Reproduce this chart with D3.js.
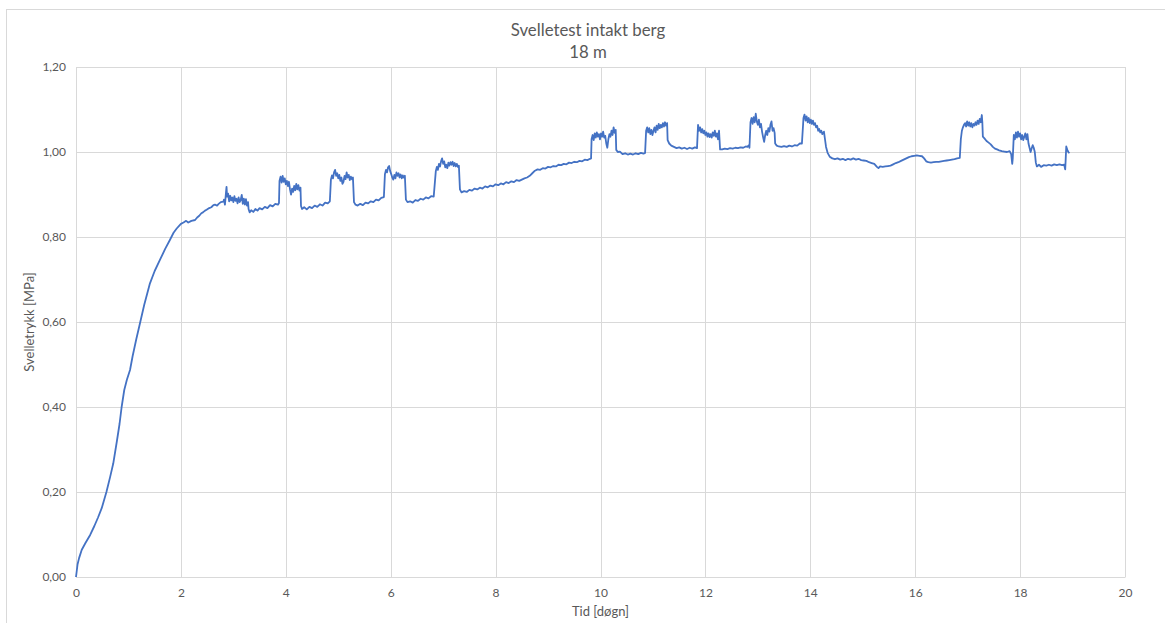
<!DOCTYPE html>
<html>
<head>
<meta charset="utf-8">
<script src="https://cdn.jsdelivr.net/npm/d3@7"></script>
<style>
  html, body { margin: 0; padding: 0; background: #fff; }
  svg { display: block; }
  text { font-family: Lato, "Noto Sans", sans-serif; fill: #595959; }
</style>
</head>
<body>
<script>
// ---- Data ----
const titleLines = ["Svelletest intakt berg", "18 m"];
const xLabel = "Tid [døgn]";
const yLabel = "Svelletrykk [MPa]";
const xTicks = [0, 2, 4, 6, 8, 10, 12, 14, 16, 18, 20];
const yTicks = [0, 0.2, 0.4, 0.6, 0.8, 1.0, 1.2];

// [tid (døgn), svelletrykk (MPa)]
const oppstart = [
  [0,0],[0.03,0.03],[0.06,0.045],[0.11,0.064],[0.18,0.08],[0.27,0.099],[0.35,0.12],[0.42,0.14],
  [0.49,0.162],[0.58,0.20],[0.65,0.235],[0.71,0.267],[0.78,0.32],[0.83,0.36],[0.87,0.40],[0.92,0.44],
  [0.97,0.464],[1.03,0.487],[1.08,0.52],[1.15,0.56],[1.22,0.597],[1.30,0.64],[1.41,0.691],[1.50,0.72],
  [1.60,0.746],[1.70,0.772],[1.79,0.793],[1.86,0.81],[1.92,0.82],[2.00,0.831],[2.05,0.834],[2.10,0.838],
  [2.14,0.834],[2.20,0.838],[2.27,0.84],[2.31,0.846],[2.35,0.85],[2.39,0.856],[2.42,0.858],[2.46,0.862],
  [2.49,0.864],[2.54,0.868],[2.58,0.87],[2.62,0.875],[2.65,0.876],[2.69,0.874],[2.72,0.878],[2.76,0.882],[2.81,0.883]
];
const syklus1 = [
  [2.82,0.888],[2.84,0.876],[2.86,0.905],[2.87,0.918],[2.88,0.895],[2.90,0.902],[2.92,0.884],[2.94,0.897],
  [2.96,0.886],[2.98,0.893],[3.00,0.882],[3.02,0.896],[3.04,0.885],[3.06,0.89],[3.08,0.879],[3.10,0.893],
  [3.12,0.882],[3.14,0.887],[3.16,0.899],[3.18,0.878],[3.20,0.89],[3.22,0.876],[3.24,0.889],[3.26,0.874],
  [3.28,0.882],[3.29,0.866],[3.31,0.858],[3.34,0.863],[3.38,0.859],[3.42,0.866],[3.46,0.862],[3.50,0.868],
  [3.55,0.865],[3.60,0.871],[3.65,0.868],[3.70,0.875],[3.75,0.872],[3.80,0.878],[3.85,0.876],[3.87,0.88]
];
const syklus2 = [
  [3.88,0.932],[3.90,0.942],[3.92,0.928],[3.94,0.944],[3.96,0.93],[3.98,0.938],[4.00,0.924],[4.02,0.932],
  [4.04,0.92],[4.06,0.93],[4.08,0.912],[4.10,0.9],[4.12,0.914],[4.14,0.906],[4.16,0.92],[4.18,0.91],
  [4.20,0.925],[4.22,0.912],[4.24,0.922],[4.26,0.909],[4.28,0.916],[4.29,0.873],[4.31,0.866],[4.35,0.87],
  [4.40,0.865],[4.45,0.871],[4.50,0.868],[4.55,0.874],[4.60,0.871],[4.65,0.877],[4.70,0.874],[4.75,0.881],
  [4.80,0.879],[4.84,0.884]
];
const syklus3 = [
  [4.86,0.935],[4.88,0.945],[4.90,0.938],[4.92,0.952],[4.94,0.958],[4.96,0.944],[4.98,0.95],[5.00,0.938],
  [5.02,0.946],[5.04,0.932],[5.06,0.94],[5.08,0.925],[5.10,0.93],[5.12,0.944],[5.14,0.936],[5.16,0.952],
  [5.18,0.94],[5.20,0.946],[5.22,0.934],[5.24,0.942],[5.26,0.936],[5.28,0.94],[5.30,0.882],[5.33,0.876],
  [5.37,0.874],[5.42,0.878],[5.47,0.875],[5.52,0.881],[5.57,0.879],[5.62,0.884],[5.67,0.882],[5.72,0.888],
  [5.77,0.886],[5.82,0.892],[5.87,0.894]
];
const syklus4 = [
  [5.89,0.948],[5.91,0.958],[5.93,0.952],[5.95,0.964],[5.97,0.967],[5.99,0.955],[6.01,0.948],[6.03,0.94],
  [6.05,0.935],[6.07,0.946],[6.09,0.938],[6.11,0.952],[6.13,0.944],[6.15,0.95],[6.17,0.94],[6.19,0.947],
  [6.21,0.938],[6.23,0.945],[6.25,0.94],[6.27,0.944],[6.29,0.888],[6.32,0.882],[6.37,0.884],[6.42,0.881],
  [6.47,0.887],[6.52,0.885],[6.57,0.89],[6.62,0.888],[6.67,0.893],[6.72,0.891],[6.77,0.896],[6.82,0.895]
];
const syklus5 = [
  [6.86,0.955],[6.88,0.965],[6.90,0.958],[6.92,0.972],[6.94,0.966],[6.96,0.978],[6.98,0.985],[7.00,0.972],
  [7.02,0.978],[7.04,0.964],[7.06,0.97],[7.08,0.962],[7.10,0.975],[7.12,0.968],[7.14,0.976],[7.16,0.97],
  [7.18,0.977],[7.20,0.967],[7.22,0.974],[7.24,0.966],[7.26,0.972],[7.28,0.965],[7.30,0.968],[7.32,0.912],
  [7.35,0.905],[7.40,0.908],[7.45,0.906],[7.50,0.911],[7.55,0.909],[7.60,0.914],[7.65,0.912],[7.70,0.916],
  [7.75,0.914],[7.80,0.919],[7.85,0.917],[7.90,0.921],[7.95,0.919],[8.00,0.924],[8.05,0.922],[8.10,0.926],
  [8.15,0.924],[8.20,0.929],[8.25,0.927],[8.30,0.931],[8.35,0.929],[8.40,0.934],[8.45,0.932],[8.50,0.935],
  [8.55,0.938],[8.60,0.94],[8.65,0.944],[8.70,0.95],[8.75,0.956],[8.80,0.959],[8.85,0.958],[8.90,0.962],
  [8.95,0.961],[9.00,0.965],[9.05,0.964],[9.10,0.967],[9.15,0.966],[9.20,0.97],[9.25,0.969],[9.30,0.972],
  [9.35,0.971],[9.40,0.975],[9.45,0.974],[9.50,0.977],[9.55,0.976],[9.60,0.979],[9.65,0.978],[9.70,0.982],
  [9.75,0.981],[9.80,0.984],[9.82,0.985]
];
const syklus6 = [
  [9.83,1.03],[9.85,1.04],[9.87,1.028],[9.89,1.044],[9.91,1.034],[9.93,1.046],[9.95,1.036],[9.97,1.042],
  [9.99,1.03],[10.01,1.044],[10.03,1.036],[10.05,1.048],[10.07,1.034],[10.09,1.038],[10.11,1.02],[10.13,1.01],
  [10.15,1.03],[10.17,1.042],[10.19,1.036],[10.21,1.05],[10.23,1.04],[10.25,1.058],[10.27,1.045],[10.29,1.052],
  [10.30,1.005],[10.33,1.0],[10.37,1.001],[10.42,0.995],[10.47,0.997],[10.52,0.994],[10.57,0.996],[10.62,0.994],
  [10.67,0.997],[10.72,0.995],[10.77,0.998],[10.82,0.996],[10.85,0.998]
];
const syklus7 = [
  [10.87,1.05],[10.89,1.058],[10.91,1.046],[10.93,1.056],[10.95,1.042],[10.97,1.052],[10.99,1.04],[11.01,1.05],
  [11.03,1.058],[11.05,1.046],[11.07,1.062],[11.09,1.052],[11.11,1.066],[11.13,1.056],[11.15,1.064],[11.17,1.058],
  [11.19,1.068],[11.21,1.06],[11.23,1.07],[11.25,1.062],[11.27,1.068],[11.28,1.028],[11.31,1.02],[11.35,1.015],
  [11.40,1.012],[11.45,1.009],[11.50,1.011],[11.55,1.008],[11.60,1.01],[11.65,1.007],[11.70,1.01],[11.75,1.008],
  [11.80,1.011],[11.84,1.009]
];
const syklus8 = [
  [11.86,1.064],[11.88,1.05],[11.90,1.058],[11.92,1.046],[11.94,1.054],[11.96,1.044],[11.98,1.05],[12.00,1.04],
  [12.02,1.046],[12.04,1.036],[12.06,1.044],[12.08,1.035],[12.10,1.042],[12.12,1.034],[12.14,1.046],[12.16,1.038],
  [12.18,1.05],[12.20,1.036],[12.22,1.044],[12.24,1.03],[12.26,1.05],[12.28,1.006],[12.32,1.006],[12.37,1.008],
  [12.42,1.007],[12.47,1.009],[12.52,1.008],[12.57,1.01],[12.62,1.009],[12.67,1.011],[12.72,1.01],[12.77,1.013],
  [12.80,1.012],[12.83,1.016],[12.84,1.01]
];
const syklus9 = [
  [12.86,1.07],[12.88,1.08],[12.90,1.066],[12.92,1.082],[12.94,1.07],[12.96,1.09],[12.98,1.072],[13.00,1.064],
  [13.02,1.076],[13.04,1.058],[13.06,1.066],[13.08,1.048],[13.10,1.035],[13.12,1.024],[13.14,1.04],[13.16,1.05],
  [13.18,1.04],[13.20,1.056],[13.22,1.048],[13.24,1.064],[13.26,1.072],[13.28,1.05],[13.30,1.056],[13.32,1.045],
  [13.33,1.02],[13.36,1.015],[13.40,1.013],[13.45,1.012],[13.50,1.014],[13.55,1.012],[13.60,1.015],[13.65,1.013],
  [13.70,1.016],[13.75,1.015],[13.80,1.02],[13.84,1.02]
];
const syklus10 = [
  [13.87,1.08],[13.89,1.088],[13.91,1.074],[13.93,1.084],[13.95,1.07],[13.97,1.08],[13.99,1.068],[14.01,1.076],
  [14.03,1.066],[14.05,1.074],[14.07,1.064],[14.09,1.068],[14.11,1.058],[14.13,1.062],[14.15,1.05],[14.17,1.054],
  [14.19,1.046],[14.21,1.05],[14.23,1.042],[14.26,1.048],[14.28,1.03],[14.30,1.012],[14.33,0.998],[14.37,0.989],
  [14.42,0.985],[14.47,0.983],[14.52,0.985],[14.57,0.982],[14.62,0.984],[14.67,0.981],[14.72,0.984],[14.77,0.982],
  [14.82,0.985],[14.87,0.982],[14.92,0.984],[14.97,0.981],[15.02,0.98],[15.07,0.979],[15.12,0.976],[15.17,0.974],
  [15.22,0.972],[15.27,0.965],[15.30,0.962],[15.33,0.966],[15.38,0.965],[15.43,0.966],[15.48,0.967],[15.53,0.968],
  [15.58,0.971],[15.63,0.974],[15.68,0.976],[15.73,0.979],[15.78,0.982],[15.83,0.985],[15.88,0.988],[15.93,0.99],
  [15.98,0.991],[16.03,0.992],[16.08,0.991],[16.13,0.99],[16.17,0.985],[16.21,0.978],[16.25,0.976],[16.30,0.975],
  [16.35,0.976],[16.40,0.977],[16.45,0.977],[16.50,0.978],[16.55,0.979],[16.60,0.98],[16.65,0.981],[16.70,0.982],
  [16.75,0.983],[16.80,0.985],[16.85,0.986]
];
const syklus11 = [
  [16.87,1.03],[16.89,1.05],[16.91,1.058],[16.93,1.064],[16.95,1.068],[16.97,1.06],[16.99,1.072],[17.01,1.062],
  [17.03,1.07],[17.05,1.06],[17.07,1.068],[17.09,1.058],[17.11,1.066],[17.13,1.062],[17.15,1.07],[17.17,1.064],
  [17.19,1.074],[17.21,1.066],[17.23,1.078],[17.25,1.07],[17.27,1.087],[17.28,1.07],[17.29,1.036],[17.32,1.032],
  [17.36,1.026],[17.40,1.022],[17.44,1.018],[17.48,1.012],[17.52,1.008],[17.56,1.006],[17.60,1.004],[17.65,1.002],
  [17.70,1.001],[17.75,1.0],[17.80,1.002],[17.83,0.995],[17.85,0.972],[17.86,0.985]
];
const syklus12 = [
  [17.88,1.04],[17.90,1.03],[17.92,1.046],[17.94,1.034],[17.96,1.048],[17.98,1.036],[18.00,1.044],[18.02,1.03],
  [18.04,1.04],[18.06,1.028],[18.08,1.036],[18.10,1.044],[18.12,1.03],[18.14,1.042],[18.16,1.02],[18.18,1.01],
  [18.20,1.0],[18.22,1.008],[18.24,1.016],[18.26,1.01],[18.28,1.0],[18.30,0.975],[18.32,0.966],[18.36,0.97],
  [18.40,0.965],[18.45,0.969],[18.50,0.968],[18.55,0.97],[18.60,0.968],[18.65,0.971],[18.70,0.969],[18.75,0.971],
  [18.80,0.969],[18.84,0.97],[18.86,0.959],[18.87,0.985],[18.88,1.013],[18.90,1.005],[18.92,1.0],[18.94,0.997]
];

const series = [].concat(oppstart, syklus1, syklus2, syklus3, syklus4, syklus5, syklus6,
  syklus7, syklus8, syklus9, syklus10, syklus11, syklus12);

// ---- Layout ----
const W = 1165, H = 623;
const M = { left: 76, top: 67, right: 1125, bottom: 577 };

const svg = d3.select("body").append("svg").attr("width", W).attr("height", H);

svg.append("rect")
  .attr("x", 6.5).attr("y", 9.5).attr("width", 1170).attr("height", 630)
  .attr("fill", "#fff").attr("stroke", "#d9d9d9").attr("stroke-width", 1);

const x = d3.scaleLinear().domain([0, 20]).range([M.left, M.right]);
const y = d3.scaleLinear().domain([0, 1.2]).range([M.bottom, M.top]);

const fmtY = v => d3.format(".2f")(v).replace(".", ",");

// gridlines
const grid = svg.append("g");
grid.selectAll("line.h").data(yTicks).join("line")
  .attr("x1", M.left).attr("x2", M.right)
  .attr("y1", d => Math.round(y(d)) + 0.5).attr("y2", d => Math.round(y(d)) + 0.5)
  .attr("stroke", "#d9d9d9").attr("stroke-width", 1);
grid.selectAll("line.v").data(xTicks).join("line")
  .attr("y1", M.top).attr("y2", M.bottom)
  .attr("x1", d => Math.round(x(d)) + 0.5).attr("x2", d => Math.round(x(d)) + 0.5)
  .attr("stroke", "#d9d9d9").attr("stroke-width", 1);

// axes (labels only, via d3 axis)
const xAxis = svg.append("g").attr("transform", `translate(0,${M.bottom})`)
  .call(d3.axisBottom(x).tickValues(xTicks).tickSize(0).tickPadding(11).tickFormat(d3.format("d")));
const yAxis = svg.append("g").attr("transform", `translate(${M.left},0)`)
  .call(d3.axisLeft(y).tickValues(yTicks).tickSize(0).tickPadding(10).tickFormat(fmtY));
[xAxis, yAxis].forEach(a => {
  a.select(".domain").attr("stroke", "#d9d9d9");
  a.selectAll("text").style("font-family", "Lato, 'Noto Sans', sans-serif")
    .style("font-size", "12px").attr("fill", "#595959");
});

// line
const line = d3.line().x(d => x(d[0])).y(d => y(d[1]));
svg.append("path").datum(series)
  .attr("fill", "none").attr("stroke", "#4472C4").attr("stroke-width", 1.8)
  .attr("stroke-linejoin", "round").attr("d", line);

// titles
svg.append("text").attr("x", 588).attr("y", 36).attr("text-anchor", "middle")
  .style("font-size", "16.8px").text(titleLines[0]);
svg.append("text").attr("x", 588).attr("y", 58).attr("text-anchor", "middle")
  .style("font-size", "16.8px").text(titleLines[1]);

svg.append("text").attr("x", (M.left + M.right) / 2).attr("y", 616).attr("text-anchor", "middle")
  .style("font-size", "13px").text(xLabel);
svg.append("text").attr("transform", `translate(34,${(M.top + M.bottom) / 2}) rotate(-90)`)
  .attr("text-anchor", "middle").style("font-size", "13px").text(yLabel);
</script>
</body>
</html>
